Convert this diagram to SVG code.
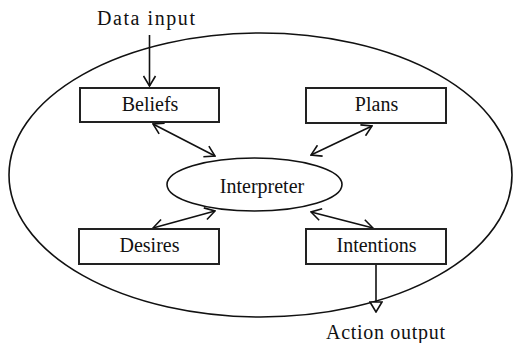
<svg xmlns="http://www.w3.org/2000/svg" width="513" height="343" viewBox="0 0 513 343">
<style>
.txt{font-family:"Liberation Serif","Times New Roman",serif;font-size:20px;fill:#111;text-anchor:middle}
.box{fill:#fff;stroke:#222;stroke-width:2}
.ell{fill:none;stroke:#111;stroke-width:1.6}
.con{fill:none;stroke:#111;stroke-width:1.6}
</style>
<defs>
<marker id="v" markerUnits="userSpaceOnUse" viewBox="0 0 12 14" refX="11" refY="7" markerWidth="12" markerHeight="14" orient="auto-start-reverse">
<path d="M1,1 L11,7 L1,13" fill="none" stroke="#111" stroke-width="1.6"/>
</marker>
<marker id="tri" markerUnits="userSpaceOnUse" viewBox="0 0 12 14" refX="11" refY="7" markerWidth="12" markerHeight="14" orient="auto">
<path d="M1,1 L11,7 L1,13 Z" fill="#fff" stroke="#111" stroke-width="1.6"/>
</marker>
</defs>
<rect width="513" height="343" fill="#fff"/>
<g id="agent">
<ellipse class="ell" cx="260.5" cy="175" rx="251.5" ry="142"/>
</g>
<g id="connectors">
<line class="con" x1="149.5" y1="35" x2="149.5" y2="86" marker-end="url(#v)"/>
<line class="con" x1="153" y1="124" x2="215" y2="156" marker-start="url(#v)" marker-end="url(#v)"/>
<line class="con" x1="372" y1="126" x2="311" y2="155" marker-start="url(#v)" marker-end="url(#v)"/>
<line class="con" x1="153" y1="228" x2="215" y2="211" marker-start="url(#v)" marker-end="url(#v)"/>
<line class="con" x1="311" y1="212" x2="373" y2="228" marker-start="url(#v)" marker-end="url(#v)"/>
<line class="con" x1="376" y1="264" x2="376" y2="312" marker-end="url(#tri)"/>
</g>
<g id="data-input"><text class="txt" x="146" y="25" textLength="98" lengthAdjust="spacing">Data input</text></g>
<g id="beliefs"><rect class="box" x="80" y="88" width="139" height="34"/><text class="txt" x="150" y="111">Beliefs</text></g>
<g id="plans"><rect class="box" x="306" y="88" width="140" height="35"/><text class="txt" x="376.5" y="111">Plans</text></g>
<g id="interpreter"><ellipse class="ell" cx="254.5" cy="184.5" rx="87.5" ry="26.5"/><text class="txt" x="262" y="193">Interpreter</text></g>
<g id="desires"><rect class="box" x="79" y="229" width="140" height="35"/><text class="txt" x="149.5" y="252">Desires</text></g>
<g id="intentions"><rect class="box" x="306" y="229" width="140" height="35"/><text class="txt" x="376.5" y="252">Intentions</text></g>
<g id="action-output"><text class="txt" x="385.5" y="339" textLength="119" lengthAdjust="spacing">Action output</text></g>
</svg>
